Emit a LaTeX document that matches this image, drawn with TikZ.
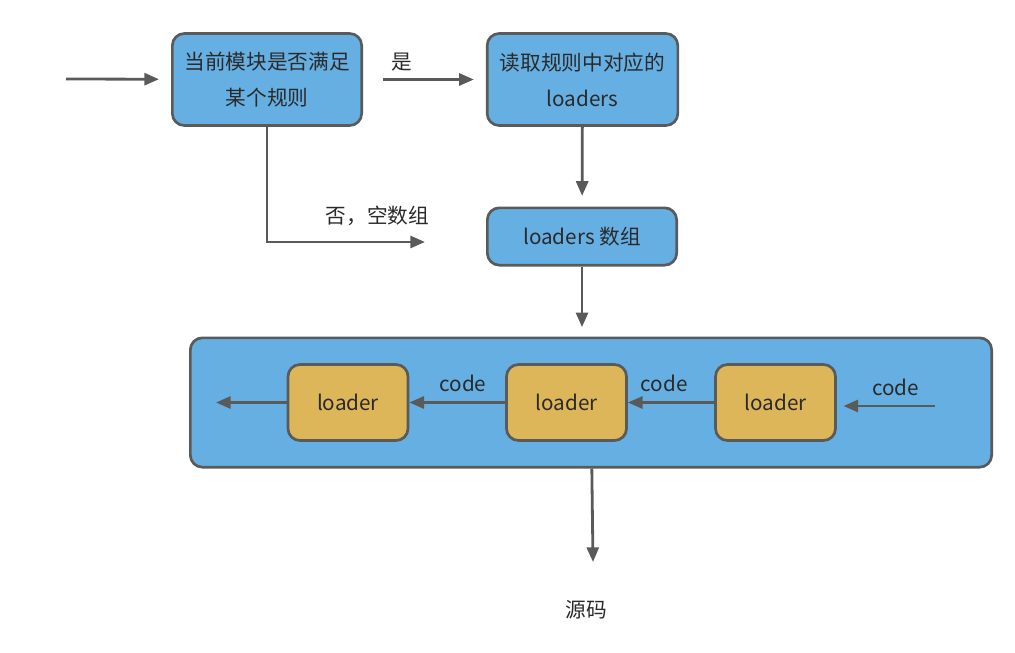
\documentclass[tikz,border=0pt]{standalone}
\usepackage{fontspec}
\setmainfont{Noto Sans CJK SC}
\usetikzlibrary{arrows.meta}

\definecolor{boxblue}{HTML}{66AFE2}
\definecolor{boxgold}{HTML}{DEB65A}
\definecolor{linegray}{HTML}{5A5A5A}
\definecolor{textgray}{HTML}{2A2A2A}

\begin{document}
\begin{tikzpicture}[x=0.75pt, y=-0.75pt, ->, >={Triangle[length=11pt,width=9pt]},
	line width=2.1pt, draw=linegray, font=\fontsize{15.5}{27}\selectfont, text=textgray,
	step box/.style={rectangle, rounded corners=9pt, draw=linegray, line width=2pt, fill=boxblue, align=center},
	loader box/.style={rectangle, rounded corners=9pt, draw=linegray, line width=2pt, fill=boxgold, minimum width=90pt, minimum height=57pt},
	label/.style={inner sep=1pt}]

	\useasboundingbox (0,0) rectangle (1015,653);

	% main steps
	\node[step box, minimum width=142pt, minimum height=69pt] (match) at (267,79.5) {当前模块是否满足\\某个规则};
	\node[step box, minimum width=143pt, minimum height=69pt] (read) at (582.5,79.5) {读取规则中对应的\\loaders};
	\node[step box, minimum width=142pt, minimum height=43pt] (list) at (582,236.5) {loaders 数组};

	% loader chain
	\node[step box, minimum width=601pt, minimum height=97pt] (chain) at (591,402.5) {};
	\node[loader box] (l1) at (348,402.5) {loader};
	\node[loader box] (l2) at (566.5,402.5) {loader};
	\node[loader box] (l3) at (775.5,402.5) {loader};

	\node (src) at (586,610) {源码};

	\coordinate (in) at (66,79);
	\coordinate (empty) at (425,242);
	\coordinate (feed) at (935,406);
	\coordinate (out) at (216,402.5);
	\coordinate (srcin) at (593,562);

	\path
	(in) edge[shorten >=9pt] (match)
	(match) edge[shorten <=15pt, shorten >=9pt] node[label, above=4pt, pos=0.32] {是} (read)
	(read) edge[shorten >=8pt] (list)
	(list) edge[shorten >=7pt] (list.south |- chain.north)
	(feed) edge[shorten >=5pt] node[label, above=6pt, pos=0.4] {code} (feed -| l3.east)
	(l3) edge node[label, above=6pt, pos=0.58] {code} (l2)
	(l2) edge node[label, above=6pt, pos=0.44] {code} (l1)
	(l1) edge (out)
	(chain) edge (srcin);

	\draw (match.south) |- (empty) node[label, pos=0.85, above=10pt] {否，空数组};

\end{tikzpicture}
\end{document}
